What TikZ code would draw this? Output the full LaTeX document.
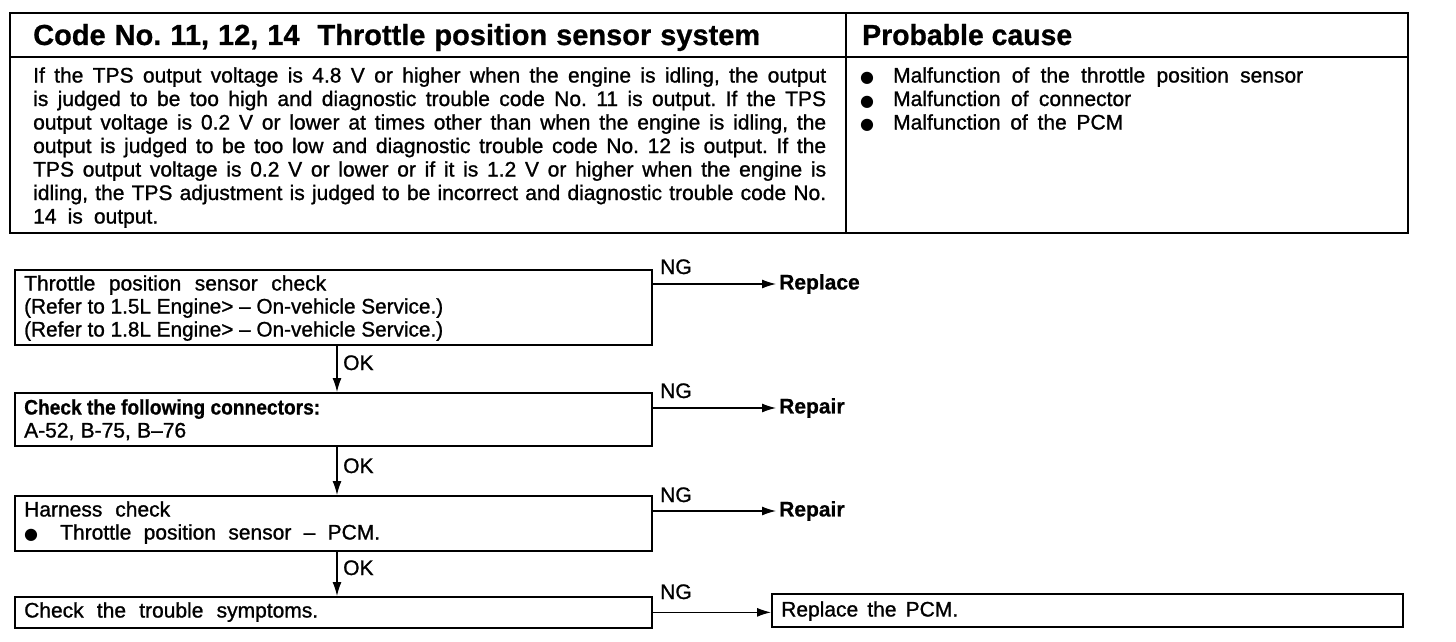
\documentclass[tikz,border=0pt]{standalone}
\usepackage{fontspec}
\usepackage{graphicx}
\setmainfont{Liberation Sans}[FakeBold=1.1]
\newfontfamily\bfam{Liberation Sans Bold}[FakeBold=0.8]
\newfontfamily\dvs{DejaVu Sans}
\usetikzlibrary{arrows.meta,calc}
\newsavebox\fwbox
\newcommand{\fw}[2]{\sbox\fwbox{#2}\ifdim\wd\fwbox>#1pt\relax\resizebox{#1pt}{\ht\fwbox}{\usebox\fwbox}\else\makebox[#1pt][s]{#2}\fi}
\newcommand{\bul}{{\dvs\fontsize{16}{16}\selectfont ●}}
\frenchspacing
\begin{document}
\begin{tikzpicture}[x=1pt,y=-1pt,
  tx/.style={anchor=base west, inner sep=0pt, font=\fontsize{21}{23}\selectfont},
  tb/.style={anchor=base west, inner sep=0pt, font=\fontsize{21}{23}\bfam},
  hd/.style={anchor=base west, inner sep=0pt, font=\fontsize{29}{30}\bfam},
  stepbox/.style={draw, line width=1.7pt, inner sep=0pt, anchor=north west},
  arr/.style={line width=1.2pt, -{Latex[length=14pt,width=9pt]}},
  res/.style={anchor=west, inner sep=3pt, font=\fontsize{21}{23}\bfam}]
\useasboundingbox (0,0) rectangle (1456,642);
% table frame
\draw[line width=2.6pt] (10,13) rectangle (1408,233);
\draw[line width=2.2pt] (10,57) -- (1408,57);
\draw[line width=2.2pt] (846,13) -- (846,233);
% headers
\node[hd] (h1) at (33,45) {\fw{727}{Code No. 11, 12, 14\ \ Throttle position sensor system}};
\node[hd] (h2) at (862,45) {\fw{210}{Probable cause}};
% body text
\node[tx] (l1) at (33,82.5) {\fw{793}{If the TPS output voltage is 4.8 V or higher when the engine is idling, the output}};
\node[tx] (l2) at (33,106) {\fw{793}{is judged to be too high and diagnostic trouble code No. 11 is output. If the TPS}};
\node[tx] (l3) at (33,129.5) {\fw{793}{output voltage is 0.2 V or lower at times other than when the engine is idling, the}};
\node[tx] (l4) at (33,153) {\fw{793}{output is judged to be too low and diagnostic trouble code No. 12 is output. If the}};
\node[tx] (l5) at (33,176.5) {\fw{793}{TPS output voltage is 0.2 V or lower or if it is 1.2 V or higher when the engine is}};
\node[tx] (l6) at (33,200) {\fw{793}{idling, the TPS adjustment is judged to be incorrect and diagnostic trouble code No.}};
\node[tx] (l7) at (33,223.5) {\fw{125}{14 is output.}};
% causes
\node[tx] (c1) at (860,82.5) {\makebox[33pt][l]{\bul}\fw{410}{Malfunction of the throttle position sensor}};
\node[tx] (c2) at (860,106) {\makebox[33pt][l]{\bul}\fw{238}{Malfunction of connector}};
\node[tx] (c3) at (860,129.5) {\makebox[33pt][l]{\bul}\fw{230}{Malfunction of the PCM}};
% flow boxes
\node[stepbox, minimum width=637pt, minimum height=75pt] (b1) at (14,269) {};
\node[stepbox, minimum width=637pt, minimum height=53pt] (b2) at (14,392) {};
\node[stepbox, minimum width=637pt, minimum height=55pt] (b3) at (14,495) {};
\node[stepbox, minimum width=637pt, minimum height=31pt] (b4) at (14,596) {};
\node[stepbox, minimum width=631pt, minimum height=33pt] (b5) at (771,593) {};
% box texts
\node[tx] (t1a) at (24,290.5) {\fw{302}{Throttle position sensor check}};
\node[tx] (t1b) at (24,313.5) {\fw{419}{(Refer to 1.5L Engine> – On-vehicle Service.)}};
\node[tx] (t1c) at (24,336.5) {\fw{419}{(Refer to 1.8L Engine> – On-vehicle Service.)}};
\node[tb] (t2a) at (24,414.5) {\fw{296}{Check the following connectors:}};
\node[tx] (t2b) at (24,437.5) {\fw{162}{A-52, B-75, B–76}};
\node[tx] (t3a) at (24,516.5) {\fw{146}{Harness check}};
\node[tx] (t3b) at (24,539.5) {\makebox[36pt][l]{\bul}\fw{320}{Throttle position sensor – PCM.}};
\node[tx] (t4a) at (24,617.5) {\fw{294}{Check the trouble symptoms.}};
\node[tx] (t5a) at (781,616.5) {\fw{177}{Replace the PCM.}};
% results
\node[res] (r1) at (776,284) {Replace};
\node[res] (r2) at (776,408) {Repair};
\node[res] (r3) at (776,511) {Repair};
% NG labels
\node[tx] (ng1) at (660,274) {NG};
\node[tx] (ng2) at (660,398) {NG};
\node[tx] (ng3) at (660,502) {NG};
\node[tx] (ng4) at (660,599) {NG};
% OK labels
\node[tx] (ok1) at (343,370) {OK};
\node[tx] (ok2) at (343,473) {OK};
\node[tx] (ok3) at (343,575) {OK};
% connectors
\coordinate (cx) at (337,0);
\draw[arr] (r1.west -| b1.east) -- (r1.west);
\draw[arr] (r2.west -| b2.east) -- (r2.west);
\draw[arr] (r3.west -| b3.east) -- (r3.west);
\draw[arr] (b4.east) -- (b4.east -| b5.west);
\draw[arr] (b1.south -| cx) -- (b2.north -| cx);
\draw[arr] (b2.south -| cx) -- (b3.north -| cx);
\draw[arr] (b3.south -| cx) -- (b4.north -| cx);
\end{tikzpicture}
\end{document}
